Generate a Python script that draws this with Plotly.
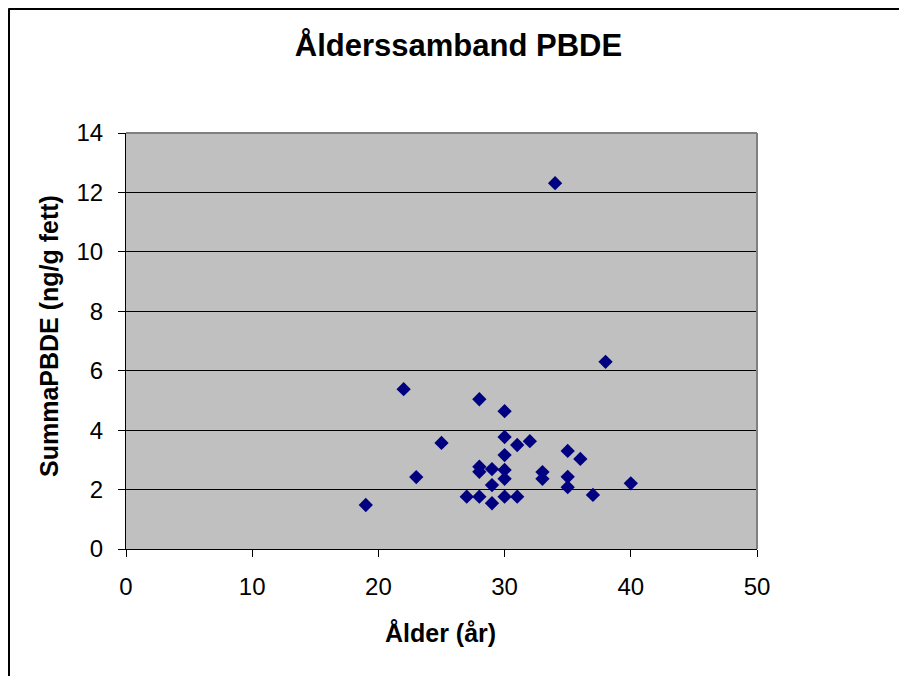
import plotly.graph_objects as go

alder = [22, 28, 30, 25, 30, 31, 32, 35, 36, 30, 23, 28, 28, 29, 30, 30, 33, 33, 35, 35,
         40, 29, 27, 28, 30, 31, 29, 37, 38, 19, 34]
summa_pbde = [5.38, 5.04, 4.64, 3.57, 3.77, 3.50, 3.63, 3.30, 3.03, 3.16, 2.42, 2.77, 2.60,
              2.69, 2.66, 2.36, 2.59, 2.36, 2.43, 2.08, 2.21, 2.15, 1.76, 1.76, 1.76, 1.76,
              1.54, 1.82, 6.30, 1.48, 12.31]

x_ticks = [0, 10, 20, 30, 40, 50]
y_ticks = [0, 2, 4, 6, 8, 10, 12, 14]

W, H = 907, 676
L, T, PW, PH = 118, 125, 631, 416  # figure is offset 8px by page body margin
R, B = W - L - PW, H - T - PH


def px(fx):
    return (fx - L) / PW


def py(fy):
    return (T + PH - fy) / PH


fig = go.Figure()
fig.add_trace(go.Scatter(
    x=alder, y=summa_pbde, mode="markers",
    marker=dict(symbol="diamond", size=11, color="#000080", line=dict(width=0)),
    showlegend=False, cliponaxis=False,
))

font = "Liberation Sans, Arial, sans-serif"
fig.update_layout(
    width=W, height=H,
    margin=dict(l=L, r=R, t=T, b=B),
    paper_bgcolor="white", plot_bgcolor="#C0C0C0",
    font=dict(family=font, color="black", size=24),
    title=dict(text="<b>Ålderssamband PBDE</b>", xref="container", x=450.5 / W,
               xanchor="center", yref="container", y=1 - 37 / H, yanchor="middle",
               font=dict(size=31, family=font)),
    xaxis=dict(range=[0, 50], tickvals=x_ticks, ticks="outside", ticklen=7,
               tickcolor="black", showline=True, linecolor="black", linewidth=1,
               showgrid=False, zeroline=False, ticklabelstandoff=9,
               tickfont=dict(size=24)),
    yaxis=dict(range=[0, 14], tickvals=y_ticks, ticks="outside", ticklen=7,
               tickcolor="black", showline=True, linecolor="black", linewidth=1,
               showgrid=True, gridcolor="black", gridwidth=1, zeroline=False,
               ticklabelstandoff=10, tickfont=dict(size=24)),
    annotations=[
        dict(text="<b>Ålder (år)</b>", xref="paper", yref="paper",
             x=px(432.5), y=py(625), xanchor="center", yanchor="middle",
             showarrow=False, font=dict(size=25, family=font)),
        dict(text="<b>SummaPBDE (ng/g fett)</b>", xref="paper", yref="paper",
             x=px(41), y=py(328), xanchor="center", yanchor="middle", textangle=-90,
             showarrow=False, font=dict(size=25, family=font)),
    ],
    shapes=[
        dict(type="line", xref="paper", yref="paper", x0=0, x1=1, y0=1, y1=1,
             line=dict(color="#808080", width=2)),
        dict(type="line", xref="paper", yref="paper", x0=1, x1=1, y0=0, y1=1,
             line=dict(color="#808080", width=2)),
        dict(type="line", xref="paper", yref="paper",
             x0=px(0.5), x1=px(0.5), y0=py(H + 10), y1=py(0.5),
             line=dict(color="black", width=3)),
        dict(type="line", xref="paper", yref="paper",
             x0=px(0.5), x1=px(W + 10), y0=py(0.5), y1=py(0.5),
             line=dict(color="black", width=3)),
    ],
)

fig.write_html("out.html")
